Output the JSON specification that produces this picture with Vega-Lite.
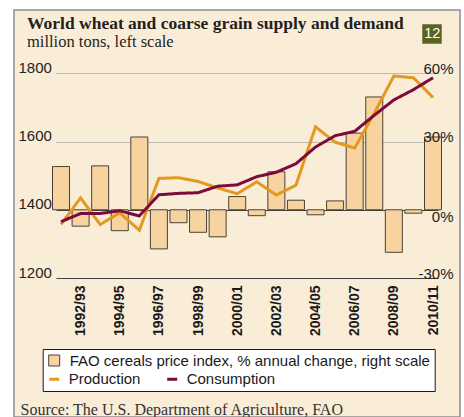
{
  "$schema": "https://vega.github.io/schema/vega-lite/v6.json",
  "width": 446,
  "height": 407,
  "autosize": {"type": "none"},
  "padding": {"left": 14, "top": 10, "right": 4, "bottom": 0},
  "background": "#ffffff",
  "title": {
    "text": "World wheat and coarse grain supply and demand",
    "subtitle": "million tons, left scale",
    "anchor": "start",
    "frame": "group",
    "orient": "top",
    "offset": -40,
    "dx": 13,
    "font": "Liberation Serif",
    "fontSize": 17.5,
    "fontWeight": "bold",
    "color": "#231f20",
    "subtitleFont": "Liberation Serif",
    "subtitleFontSize": 16.5,
    "subtitleColor": "#231f20",
    "subtitlePadding": 1
  },
  "data": {
    "values": [
      {"year": 1991, "price": 19.0, "Production": 1357, "Consumption": 1365},
      {"year": 1992, "price": -7.2, "Production": 1435, "Consumption": 1389},
      {"year": 1993, "price": 19.3, "Production": 1357, "Consumption": 1389},
      {"year": 1994, "price": -9.2, "Production": 1391, "Consumption": 1397},
      {"year": 1995, "price": 32.0, "Production": 1340, "Consumption": 1382},
      {"year": 1996, "price": -17.2, "Production": 1492, "Consumption": 1444},
      {"year": 1997, "price": -5.7, "Production": 1494, "Consumption": 1448},
      {"year": 1998, "price": -9.9, "Production": 1483, "Consumption": 1450},
      {"year": 1999, "price": -11.9, "Production": 1464, "Consumption": 1469},
      {"year": 2000, "price": 5.8, "Production": 1447, "Consumption": 1473},
      {"year": 2001, "price": -2.6, "Production": 1482, "Consumption": 1497},
      {"year": 2002, "price": 16.7, "Production": 1443, "Consumption": 1510},
      {"year": 2003, "price": 4.2, "Production": 1472, "Consumption": 1535},
      {"year": 2004, "price": -2.2, "Production": 1643, "Consumption": 1584},
      {"year": 2005, "price": 3.9, "Production": 1598, "Consumption": 1617},
      {"year": 2006, "price": 33.7, "Production": 1581, "Consumption": 1630},
      {"year": 2007, "price": 49.6, "Production": 1683, "Consumption": 1677},
      {"year": 2008, "price": -18.7, "Production": 1792, "Consumption": 1722},
      {"year": 2009, "price": -1.5, "Production": 1787, "Consumption": 1752},
      {"year": 2010, "price": 32.0, "Production": 1729, "Consumption": 1787}
    ]
  },
  "encoding": {
    "x": {
      "field": "year",
      "type": "quantitative",
      "scale": {"domain": [1991, 2010], "range": [42, 424], "nice": false, "zero": false},
      "axis": {
        "values": [1992, 1994, 1996, 1998, 2000, 2002, 2004, 2006, 2008, 2010],
        "labelExpr": "datum.value + '/' + substring('' + (datum.value + 1), 2)",
        "labelAngle": -90,
        "labelAlign": "right",
        "labelBaseline": "middle",
        "labelPadding": 7,
        "labelFont": "Liberation Sans",
        "labelFontSize": 14,
        "labelFontWeight": "bold",
        "labelColor": "#1a1a1a",
        "labelFlush": false,
        "labelOverlap": false,
        "domain": false,
        "ticks": false,
        "tickSize": 0,
        "grid": false,
        "offset": -139,
        "title": "Source: The U.S. Department of Agriculture, FAO",
        "titleX": 6,
        "titleY": 136,
        "titleAlign": "left",
        "titleAnchor": "start",
        "titleBaseline": "alphabetic",
        "titleAngle": 0,
        "titleFont": "Liberation Serif",
        "titleFontSize": 16,
        "titleFontWeight": "normal",
        "titleColor": "#333333",
        "zindex": 1
      }
    }
  },
  "layer": [
    {
      "mark": {"type": "bar", "width": 17, "stroke": "#4a4036", "strokeWidth": 1},
      "encoding": {
        "y": {
          "field": "price",
          "type": "quantitative",
          "scale": {"domain": [-30, 60], "range": [268, 63.3], "nice": false, "zero": false},
          "axis": {
            "orient": "right",
            "values": [-30, 0, 30, 60],
            "labelExpr": "datum.value + '%'",
            "domain": false,
            "ticks": false,
            "tickSize": 0,
            "grid": false,
            "labelAlign": "right",
            "labelPadding": -7,
            "labelBaseline": {"condition": {"test": "datum.value === 0", "value": "top"}, "value": "alphabetic"},
            "labelFont": "Liberation Sans",
            "labelFontSize": 15,
            "labelColor": "#222222",
            "labelOverlap": false,
            "title": null,
            "zindex": 1
          }
        },
        "y2": {"datum": 0},
        "fill": {
          "datum": "FAO cereals price index, % annual change, right scale",
          "type": "nominal",
          "scale": {"range": ["#F6D39F"]},
          "legend": {
            "orient": "none",
            "legendX": 28.7,
            "legendY": 339,
            "title": " ",
            "titleOrient": "bottom",
            "titleFontSize": 14,
            "titlePadding": 4,
            "padding": 4,
            "strokeColor": "#1a1a1a",
            "fillColor": "#ffffff",
            "symbolType": "square",
            "symbolSize": 121,
            "symbolStrokeWidth": 1,
            "labelFont": "Liberation Sans",
            "labelFontSize": 15,
            "labelColor": "#1a1a1a",
            "labelOffset": 8,
            "labelLimit": 1000,
            "zindex": 1
          }
        }
      }
    },
    {
      "transform": [{"fold": ["Production", "Consumption"], "as": ["series", "tons"]}],
      "mark": {"type": "line", "strokeWidth": 3},
      "encoding": {
        "y": {
          "field": "tons",
          "type": "quantitative",
          "scale": {"domain": [1200, 1800], "range": [268, 63.3], "nice": false, "zero": false},
          "axis": {
            "orient": "left",
            "values": [1200, 1400, 1600, 1800],
            "format": "d",
            "domain": false,
            "ticks": false,
            "tickSize": 0,
            "grid": true,
            "gridColor": {"condition": {"test": "datum.value <= 1400", "value": "#3f3f3f"}, "value": "#bdb9b1"},
            "gridWidth": 1,
            "labelAlign": "left",
            "labelPadding": -4,
            "labelBaseline": "alphabetic",
            "labelOffset": -1,
            "labelFont": "Liberation Sans",
            "labelFontSize": 15,
            "labelColor": "#222222",
            "labelOverlap": false,
            "title": null
          }
        },
        "stroke": {
          "field": "series",
          "type": "nominal",
          "scale": {"domain": ["Production", "Consumption"], "range": ["#E3981F", "#7C0A3B"]},
          "legend": {
            "orient": "none",
            "legendX": 32.7,
            "legendY": 361.5,
            "title": null,
            "direction": "horizontal",
            "padding": 0,
            "symbolType": "stroke",
            "symbolSize": 100,
            "symbolStrokeWidth": 3,
            "columnPadding": 20,
            "labelFont": "Liberation Sans",
            "labelFontSize": 15,
            "labelColor": "#1a1a1a",
            "labelOffset": 7,
            "labelLimit": 1000,
            "zindex": 2
          }
        },
        "strokeDash": {
          "datum": "12",
          "type": "nominal",
          "scale": {"range": [[1, 0]]},
          "legend": {
            "orient": "none",
            "legendX": 408,
            "legendY": 14,
            "title": null,
            "padding": 0,
            "symbolType": "square",
            "symbolSize": 380,
            "symbolFillColor": "#5B6323",
            "symbolStrokeColor": "#5B6323",
            "symbolStrokeWidth": 0,
            "symbolOpacity": 1,
            "labelFont": "Liberation Sans",
            "labelFontSize": 14.5,
            "labelColor": "#ffffff",
            "labelAlign": "center",
            "labelOffset": -9.75,
            "zindex": 1
          }
        }
      }
    }
  ],
  "resolve": {"scale": {"y": "independent"}, "axis": {"y": "independent"}},
  "config": {
    "font": "Liberation Sans",
    "view": {"fill": "#FAEDD8", "stroke": "#8e8e8e", "strokeWidth": 1.5}
  }
}
